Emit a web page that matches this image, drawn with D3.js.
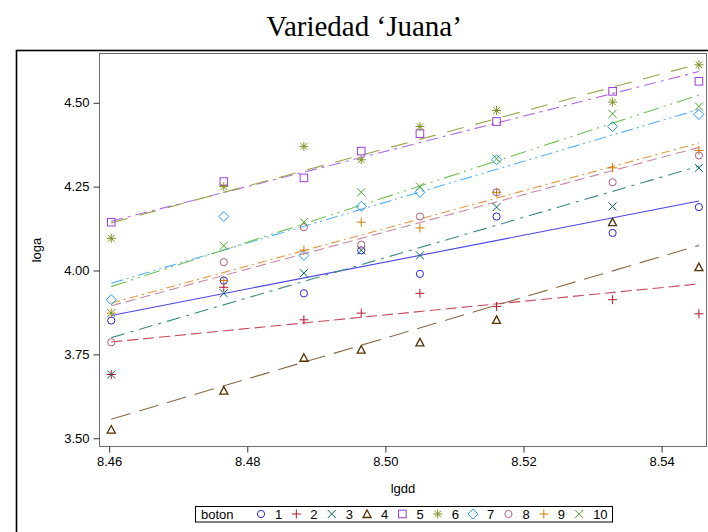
<!DOCTYPE html>
<html><head><meta charset="utf-8">
<script src="https://cdn.jsdelivr.net/npm/d3@7"></script>
<style>body{margin:0;background:#fff}svg{display:block}</style>
</head><body>
<svg id="chart" width="708" height="532"></svg>
<script>
// ---- data ----
const chartTitle = "Variedad \u2018Juana\u2019";
const lgdd = [8.4603, 8.4766, 8.4882, 8.4965, 8.5050, 8.5161, 8.5329, 8.5454];
const botones = ["1","2","3","4","5","6","7","8","9","10"];
const loga1  = [3.851, 3.970, 3.932, 4.060, 3.990, 4.161, 4.112, 4.189];
const loga2  = [3.690, 3.950, 3.853, 3.873, 3.932, 3.893, 3.913, 3.871];
const loga3  = [3.690, 3.932, 3.992, 4.060, 4.045, 4.189, 4.191, 4.306];
const loga4  = [3.526, 3.642, 3.740, 3.764, 3.786, 3.853, 4.144, 4.010];
const loga5  = [4.144, 4.265, 4.276, 4.356, 4.408, 4.444, 4.534, 4.564];
const loga6  = [4.096, 4.250, 4.370, 4.330, 4.429, 4.477, 4.502, 4.613];
const loga7  = [3.913, 4.161, 4.045, 4.191, 4.233, 4.330, 4.429, 4.465];
const loga8  = [3.786, 4.025, 4.129, 4.077, 4.161, 4.233, 4.263, 4.343];
const loga9  = [3.873, 3.970, 4.061, 4.144, 4.127, 4.233, 4.306, 4.358];
const loga10 = [3.873, 4.074, 4.144, 4.233, 4.250, 4.333, 4.467, 4.489];
// fitted line values at first and last lgdd, per boton
const fitStart = [3.866, 3.787, 3.800, 3.557, 4.147, 4.142, 3.962, 3.895, 3.903, 3.952];
const fitEnd   = [4.207, 3.960, 4.311, 4.075, 4.593, 4.616, 4.480, 4.367, 4.380, 4.523];
const xTicks = [8.46, 8.48, 8.50, 8.52, 8.54];
const yTicks = [3.50, 3.75, 4.00, 4.25, 4.50];

const series = [loga1,loga2,loga3,loga4,loga5,loga6,loga7,loga8,loga9,loga10];

// ---- styles ----
const colors = ["#2A25D9","#B2182B","#01665E","#543005","#9D3CDB","#7F8E1F","#2597FA","#B26084","#D17800","#47A82A"];
const lineColors = ["#4a45e6","#c84a5c","#3a8a84","#8a6a44","#b46ae6","#98a448","#56b0fb","#c888a4","#e09a44","#6ec054"];
const dashes = [null, "11,5", "14,6,3,6", "20,9", "12,5,3,5", "17,12", "12,4,2,4,2,4", "10,5", "9,4,2,4", "16,5,2,5,2,5"];
const shapes = ["circle","plus","x","triangle","square","star","diamond","circle","plus","x"];

const svg = d3.select("#chart");
const font = "Arial, 'Liberation Sans', sans-serif";

const plot = {left: 99.5, top: 53.5, right: 706.5, bottom: 446.5};
const x = d3.scaleLinear().domain([8.4586, 8.5465]).range([plot.left, plot.right]);
const y = d3.scaleLinear().domain([3.4755, 4.6468]).range([plot.bottom, plot.top]);

// title
svg.append("text").attr("x", 364).attr("y", 36).attr("text-anchor","middle")
  .attr("font-family","'Times New Roman', 'Liberation Serif', serif").attr("font-size", 29)
  .attr("fill","#000").text(chartTitle);

// outer frame
svg.append("rect").attr("x", 16.5).attr("y", 50.5).attr("width", 720).attr("height", 520)
  .attr("fill","none").attr("stroke","#000").attr("stroke-width",1.6);

// plot frame
svg.append("rect").attr("x", plot.left).attr("y", plot.top)
  .attr("width", plot.right-plot.left).attr("height", plot.bottom-plot.top)
  .attr("fill","#fff").attr("stroke","#6e6e6e").attr("stroke-width",1);

// axes
const xAxis = d3.axisBottom(x).tickValues(xTicks).tickFormat(d3.format(".2f")).tickSizeOuter(0).tickSize(6).tickPadding(4);
const gx = svg.append("g").attr("transform",`translate(0,${plot.bottom})`).call(xAxis);
const yAxis = d3.axisLeft(y).tickValues(yTicks).tickFormat(d3.format(".2f")).tickSizeOuter(0).tickSize(6).tickPadding(4);
const gy = svg.append("g").attr("transform",`translate(${plot.left},0)`).call(yAxis);
[gx, gy].forEach(g => {
  g.select(".domain").remove();
  g.selectAll(".tick line").attr("stroke","#333");
  g.selectAll(".tick text").attr("font-family", font).attr("font-size", 13).attr("fill","#000");
});

svg.append("text").attr("x", (plot.left+plot.right)/2).attr("y", 493).attr("text-anchor","middle")
  .attr("font-family", font).attr("font-size", 13).attr("fill","#000").text("lgdd");
svg.append("text").attr("transform", `translate(41,${(plot.top+plot.bottom)/2}) rotate(-90)`)
  .attr("text-anchor","middle").attr("font-family", font).attr("font-size", 13).attr("fill","#000").text("loga");

// marker drawing
function marker(g, shape, color) {
  const s = g.append("g").attr("fill","none").attr("stroke", color).attr("stroke-width", 1);
  switch (shape) {
    case "circle": s.append("circle").attr("r", 3.6); break;
    case "plus": s.append("path").attr("d","M-4.5,0H4.5M0,-4.5V4.5"); break;
    case "x": s.append("path").attr("d","M-4,-4L4,4M-4,4L4,-4"); break;
    case "triangle": s.append("path").attr("d","M0,-4L4,3.5H-4Z").attr("stroke-width",1.3); break;
    case "square": s.append("rect").attr("x",-3.8).attr("y",-3.8).attr("width",7.6).attr("height",7.6); break;
    case "star": s.append("path").attr("d","M-4.5,0H4.5M0,-4.5V4.5M-3.3,-3.3L3.3,3.3M-3.3,3.3L3.3,-3.3"); break;
    case "diamond": s.append("path").attr("d","M0,-5L5,0L0,5L-5,0Z"); break;
  }
  return s;
}

const clip = svg.append("clipPath").attr("id","pc").append("rect")
  .attr("x",plot.left).attr("y",plot.top).attr("width",plot.right-plot.left).attr("height",plot.bottom-plot.top);
const pg = svg.append("g").attr("clip-path","url(#pc)");

// fitted lines
const x0 = lgdd[0], x1 = lgdd[lgdd.length-1];
series.forEach((s, i) => {
  pg.append("line")
    .attr("x1", x(x0)).attr("y1", y(fitStart[i]))
    .attr("x2", x(x1)).attr("y2", y(fitEnd[i]))
    .attr("stroke", lineColors[i]).attr("stroke-width", 1.1)
    .attr("stroke-dasharray", dashes[i]);
});

// points
series.forEach((s, i) => {
  s.forEach((v, j) => {
    const g = pg.append("g").attr("transform", `translate(${x(lgdd[j])},${y(v)})`);
    marker(g, shapes[i], colors[i]);
  });
});

// legend
const lg = svg.append("g");
lg.append("rect").attr("x", 195.5).attr("y", 506.5).attr("width", 417).attr("height", 15.5)
  .attr("fill","#fff").attr("stroke","#000").attr("stroke-width",1);
lg.append("text").attr("x", 201).attr("y", 518.5).attr("font-family", font).attr("font-size", 13)
  .attr("fill","#000").text("boton");
botones.forEach((b, i) => {
  const cx = 261 + i*35.35;
  const g = lg.append("g").attr("transform", `translate(${cx},514)`);
  marker(g, shapes[i], colors[i]);
  lg.append("text").attr("x", cx + 14).attr("y", 518.5).attr("font-family", font).attr("font-size", 13)
    .attr("fill","#000").text(b);
});
</script>
</body></html>
